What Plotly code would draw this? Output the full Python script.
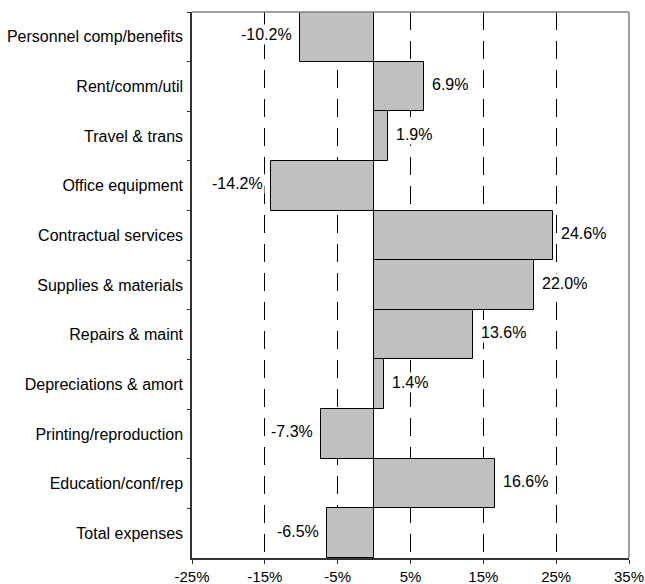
import plotly.graph_objects as go

categories = ["Personnel comp/benefits", "Rent/comm/util", "Travel & trans",
              "Office equipment", "Contractual services", "Supplies & materials",
              "Repairs & maint", "Depreciations & amort", "Printing/reproduction",
              "Education/conf/rep", "Total expenses"]
values = [-10.2, 6.9, 1.9, -14.2, 24.6, 22.0, 13.6, 1.4, -7.3, 16.6, -6.5]
tick_vals = [-25, -15, -5, 5, 15, 25, 35]
tick_text = ["-25%", "-15%", "-5%", "5%", "15%", "25%", "35%"]

FONT = "Liberation Sans, Arial, sans-serif"
FS = 16
FS_X = 15

fig = go.Figure(go.Bar(
    x=values, y=categories, orientation="h",
    marker=dict(color="#C0C0C0", line=dict(color="black", width=1)),
    hoverinfo="skip",
))

annotations = []
for cat, v in zip(categories, values):
    pos = v >= 0
    annotations.append(dict(
        x=v, y=cat, xref="x", yref="y", text=f"{v:.1f}%", showarrow=False,
        xanchor="left" if pos else "right", xshift=6 if pos else -6, yshift=2,
        bgcolor="white", borderpad=1,
        font=dict(family=FONT, size=FS, color="black"),
    ))

fig.update_layout(
    width=645, height=584,
    margin=dict(l=192, r=16, t=12, b=26),
    paper_bgcolor="white", plot_bgcolor="white",
    bargap=0, showlegend=False,
    font=dict(family=FONT, size=FS, color="black"),
    annotations=annotations,
    xaxis=dict(range=[-25, 35], tickvals=tick_vals, ticktext=tick_text,
               showgrid=True, gridcolor="black", gridwidth=1, griddash="18px,11px",
               zeroline=False, showline=True, linecolor="#333333", linewidth=1.5,
               ticks="outside", ticklen=4, tickcolor="#333333",
               automargin=False, tickfont=dict(family=FONT, size=FS_X)),
    yaxis=dict(autorange="reversed", showgrid=False, zeroline=False,
               showline=True, linecolor="#333333", linewidth=1.5,
               ticks="outside", ticklen=3, tickcolor="#333333", tickson="boundaries",
               ticklabelstandoff=4, automargin=False,
               tickfont=dict(family=FONT, size=FS)),
    shapes=[
        dict(type="line", xref="paper", yref="paper", x0=0, x1=1, y0=1, y1=1,
             line=dict(color="#808080", width=1.5)),
        dict(type="line", xref="paper", yref="paper", x0=1, x1=1, y0=0, y1=1,
             line=dict(color="#808080", width=1.5)),
    ],
)

fig.write_html("out.html", config={"displayModeBar": False},
               post_script="document.body.style.margin='0px';document.body.style.overflow='hidden';")
